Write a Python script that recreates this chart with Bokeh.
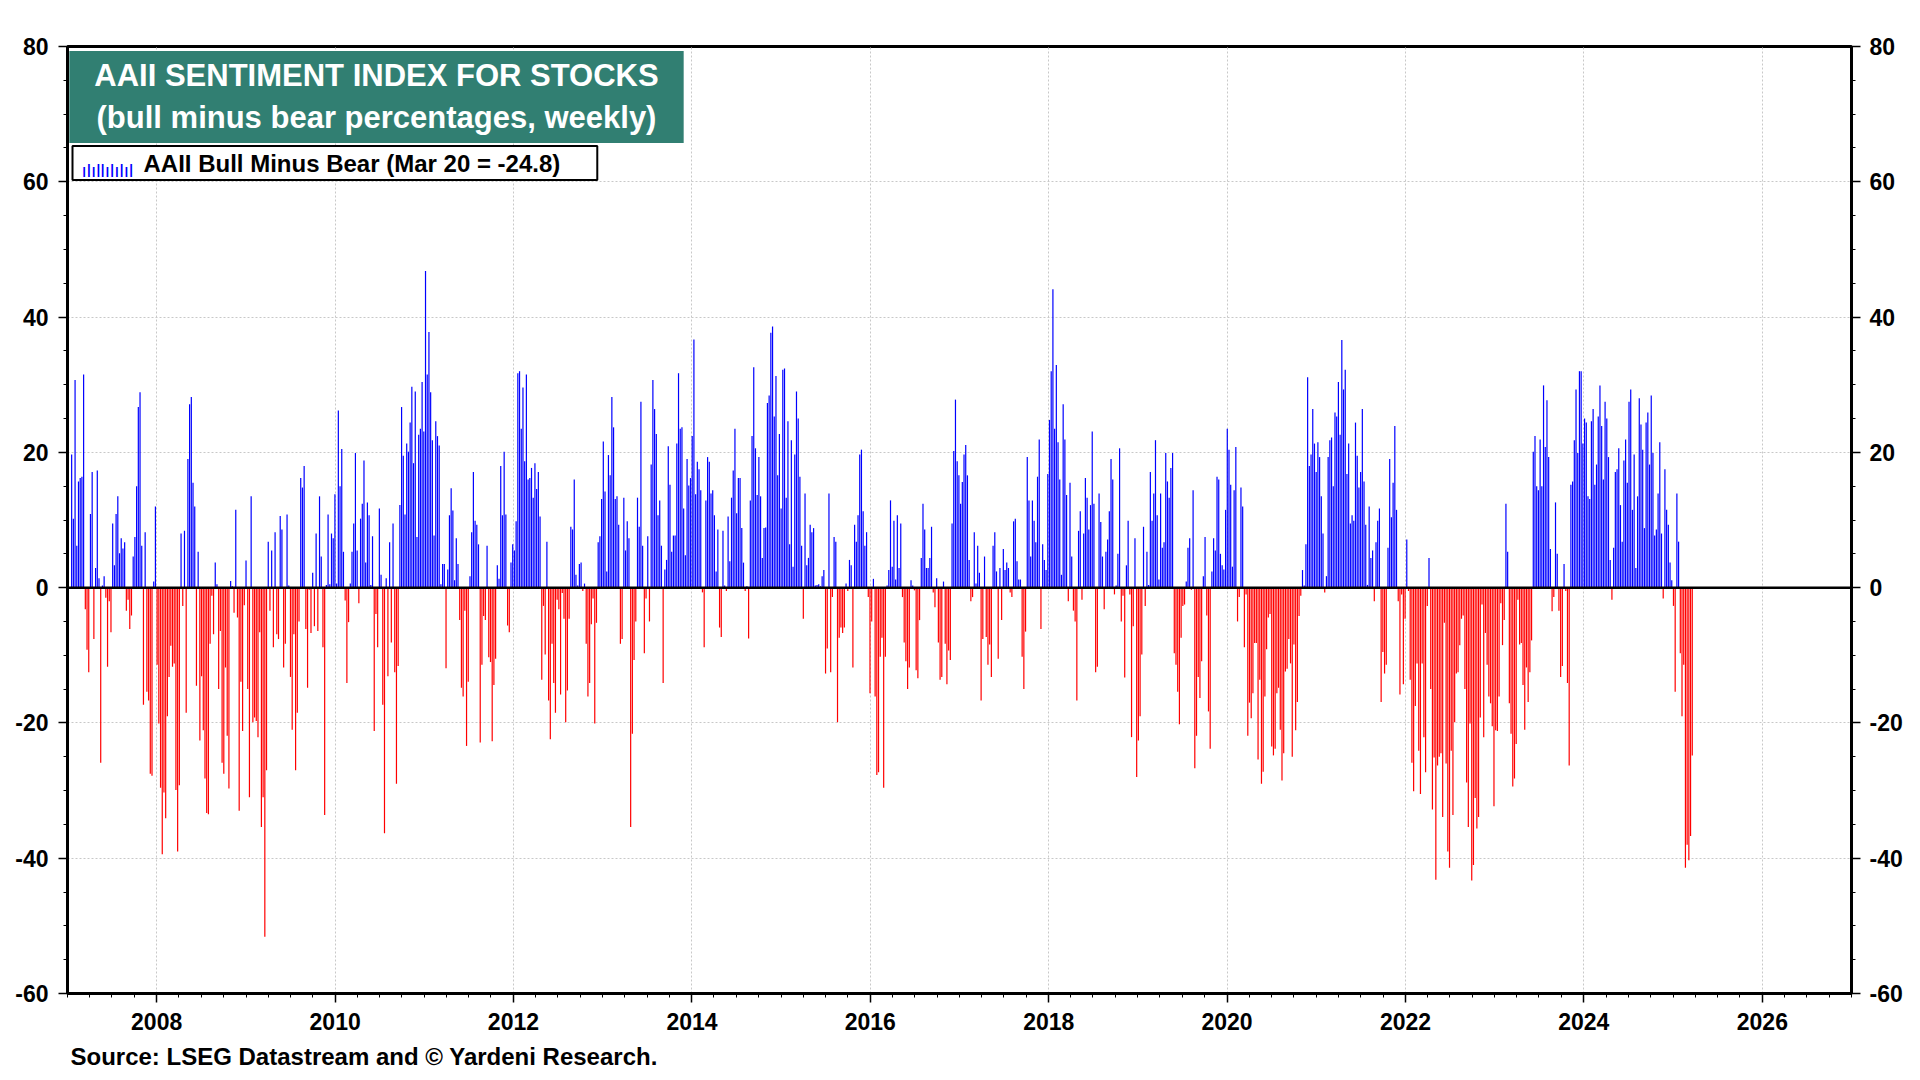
import pandas as pd
from bokeh.plotting import figure
from bokeh.models import (ColumnDataSource, Range1d, FixedTicker, DatetimeTickFormatter,
                          LinearAxis, Span, Label, Title)
from bokeh.embed import file_html
from bokeh.resources import INLINE

# weekly AAII bull minus bear readings, last reading Mar 20, 2025
last_week = "2025-03-20"

wk_2007_2009 = [19.7, 10.2, 30.7, 6.2, 15.7, 16.2, 16.4, 31.5, -3.2, -9.2,
                -12.5, 10.9, 17.1, -7.6, 2.9, 17.3, 1.4, -25.9, 0.3, 1.7,
                -1.5, -11.7, -2.0, -6.6, 9.5, 3.3, 10.9, 13.5, 5.1, 7.3,
                5.8, 6.7, -3.4, -1.8, -6.1, -4.1, 4.6, 7.5, 15.0, 26.7,
                28.9, 6.2, -17.3, 8.2, -15.4, -16.7, -27.5, -27.8, 0.9, 12.0,
                -11.4, -20.1, -29.6, -39.4, -30.3, -34.1, -19.0, -13.2, -8.6, -11.7,
                -11.2, -29.9, -39.0, -29.2, 8.0, -2.7, 8.4, -18.5, 19.0, 27.1,
                28.2, 15.5, 12.0, -14.5, 5.3, -22.6, -13.1, -21.1, -28.2, -33.3,
                -33.5, -8.3, -1.2, -6.9, 3.7, 0.5, -15.0, -6.4, -25.9, -27.5,
                -11.8, -21.9, -29.7, 1.0, 0.2, -3.7, 11.5, -4.4, -33.0, -13.9,
                -21.2, -2.6, 4.0, -15.0, -31.0, 13.5, -19.9, -19.2, -19.7, -22.1,
                -6.6, -35.4, -31.0, -51.6, -27.0, 6.8, -3.4, 5.5, -8.8, 8.2,
                -6.9, -7.6]

wk_2009_2011 = [10.6, 8.6, -11.8, -8.3, 10.8, 0.3, -13.2, -21.0, -6.9, -27.0,
                -18.5, -5.0, 16.2, 14.8, 18.0, -6.1, -14.8, -0.3, -6.7, 2.2,
                -5.7, 8.0, -6.4, 13.5, 4.6, -8.8, -33.6, 0.4, 10.8, 0.5,
                8.0, 7.3, 13.8, 0.6, 26.2, 15.0, 20.5, 5.3, -1.9, -14.1,
                -5.1, 0.6, 5.3, 9.5, 19.9, 5.5, -2.3, 10.2, 12.4, 18.8,
                3.7, 12.6, 10.7, 0.4, 7.6, -21.2, -3.9, -8.8, 11.7, 1.9,
                -17.3, -36.3, 1.4, -13.1, 6.7, -8.1, 9.5, -12.5, -29.0, -11.6,
                12.2, 26.7, 19.5, 10.8, 21.3, 20.1, 24.4, 29.7, 18.4, 29.0,
                7.5, 22.6, 23.5, 30.4, 23.1, 46.8, 31.5, 37.8, 28.9, 21.8,
                7.7, 24.6, 22.4, 21.0, 0.5, 3.5, 3.5, -11.9, 2.7, 10.7,
                14.7, 11.4, 1.1, 7.3, 3.5, -4.8, -14.8, -16.1, -3.4, -23.4,
                -13.9, 1.7, 8.2, 17.1, 9.9, 9.3, 6.4, -22.9]

wk_2011_2013 = [-11.4, -4.2, -4.8, 6.2, -10.3, -11.0, -22.7, -14.4, -10.5, 3.3,
                1.3, 18.0, 10.7, 20.1, 10.8, -5.6, -6.6, 3.7, 6.4, 5.5,
                9.8, 31.7, 32.0, 23.5, 29.6, 18.7, 31.5, 16.0, 16.2, 17.7,
                13.3, 18.4, 14.6, 17.1, 10.5, -13.6, -2.7, -9.9, 6.8, -16.7,
                -22.4, -8.3, -14.1, -18.5, -1.8, -3.2, -15.8, -0.8, -4.6, -19.9,
                -15.2, -4.6, 9.0, 8.6, 16.0, 1.9, 0.3, 3.5, 3.7, -0.5,
                0.6, -8.3, -16.1, -14.1, -5.4, -1.6, -20.1, -5.2, 6.7, 7.6,
                13.1, 21.6, 14.2, 2.4, 19.6, 16.6, 28.2, 23.7, 13.1, 13.5,
                9.3, -8.3, -7.6, 13.3, 5.5, 9.8, 7.3, -35.4, -21.6, -10.7,
                -5.0, 13.3, 9.0, 27.5, 6.2, -9.7, -1.6, 7.6, -5.0, 18.2,
                30.7, 26.4, 22.7, 10.7, 12.9, 6.2, -14.1, 2.7, 4.1, 20.9,
                15.2, 5.3, 7.7, 7.7, 21.3, 31.7, 23.5, 23.7, 11.7, 4.8]

wk_2013_2016 = [19.0, 15.1, 16.2, 22.4, 36.7, 13.8, 18.6, 17.5, 14.4, -0.7,
                -8.8, 12.9, 19.3, 18.6, 13.9, 14.4, 10.7, 2.4, 8.6, -5.9,
                -7.3, 8.4, 0.3, -0.5, 10.5, 3.9, 13.3, 17.3, 23.5, 11.0,
                16.2, 16.2, 8.8, 3.7, -0.5, 0.2, -7.5, 12.9, 22.4, 32.6,
                20.6, 13.7, 19.3, 13.5, 4.4, 8.8, 8.9, 27.3, 28.4, 37.7,
                38.6, 25.3, 31.3, 16.6, 22.7, 11.7, 32.2, 32.4, 13.3, 24.6,
                6.4, 21.8, 3.1, 19.7, 29.0, 25.0, 16.4, 6.2, -4.6, 13.9,
                3.3, 4.4, 9.3, 8.2, 8.8, 0.3, 0.4, 0.5, 0.2, 1.7, 2.6,
                -12.7, -9.0, 13.9, -12.5, -1.4, 7.5, 6.8, -19.9, -7.4, -5.9,
                -6.7, -5.9, 0.6, -0.5, 4.1, 3.3, -11.8, 9.3, 6.8, 10.7,
                19.7, 20.4, 11.3, 6.2, 8.2, -1.4, -15.6, -5.0, 1.3, -16.1,
                -27.7, -27.3, -10.2, -7.4, -29.6, -10.2, 0.3, 2.6, 12.9]

wk_2016_2018 = [3.1, 9.9, 1.2, 10.7, 2.9, 9.5, -1.4, -8.1, -10.9, -15.0,
                -11.8, 1.1, 0.3, -0.4, -12.2, -13.4, -4.8, 4.4, 12.4, 8.6, 2.9,
                2.9, 4.4, 9.0, -0.7, -2.9, 1.4, -8.1, -13.6, -13.2, 0.9,
                -8.3, -14.3, -9.3, -10.7, 9.5, 20.2, 27.8, 18.7, 16.6, 12.4,
                15.6, 19.7, 21.1, 16.6, 4.1, -2.0, -1.4, 8.2, 0.6, 6.2,
                2.2, -16.7, -7.6, 4.6, -7.3, -11.4, -8.4, -13.2, 6.2, 8.2,
                2.4, -10.5, 2.9, -4.8, 5.7, 2.6, 3.7, 2.9, -0.7, -1.4,
                9.8, 10.2, 3.9, 1.2, 1.2, -10.2, -15.0, -6.5, 19.3, 12.9,
                4.6, 12.9, 9.9, 6.7, 16.4, 21.9, -6.1, 6.4, 4.1, 2.6,
                16.8, 24.8, 32.0, 44.1, 23.5, 32.9, 21.5, 16.0, 1.9, 27.1,
                21.9, 13.7, -2.0, 15.5, 4.6, -3.4, -5.0, -16.7, 8.4, 11.3,
                -1.8, 8.0, 16.2, 13.3, 8.6, 12.2, 23.1, 12.4]

wk_2018_2020 = [-12.5, -11.7, 13.9, 9.7, 4.6, -3.2, 5.3, 7.1, 11.3, 19.0,
                16.0, -1.0, 0.3, 5.0, 20.6, -5.0, -1.2, -13.3, 3.3, 9.9,
                -1.0, -22.1, -5.7, 7.3, -28.0, -22.6, -19.0, -9.9, 9.0, -2.7,
                5.3, 0.4, 17.1, 9.9, 13.9, 21.8, 10.7, 1.2, 13.9, 5.9,
                6.7, 19.9, 15.7, 13.3, 17.7, 19.9, -9.7, -11.4, -15.4, -20.2,
                -7.4, -2.7, -2.5, 0.9, 5.9, 7.3, -0.3, 14.4, -26.7, -21.9,
                -13.2, -16.3, -10.9, 1.7, 7.5, -4.1, -18.3, -23.8, 2.4, 7.3,
                5.5, 16.4, 16.0, 5.0, 3.3, 2.7, 11.5, 23.5, 20.4, 15.2,
                3.1, 14.4, 20.8, -5.0, -1.4, 14.8, 12.0, -8.8, -1.0, -21.9,
                -17.0, -19.3, -15.6, -8.2, -8.2, -25.4, -13.6, -29.0, -27.2, -16.1,
                -9.1, -4.4, -3.9, -23.5, -24.8, -23.8, -15.6, -14.8, -21.0, -28.5,
                -24.5, -12.4, -12.0, -7.6, -11.2, -25.0, -8.4, -21.1, -16.9, -4.2]

wk_2020_2023 = [-1.2, 2.6, 0.3, 6.4, 31.1, 18.0, 19.7, 26.4, 21.3, 17.1,
                21.5, 19.3, 13.5, 8.0, -0.7, 1.7, 19.3, 21.8, 22.2, 15.0,
                25.9, 25.3, 30.4, 22.6, 36.6, 29.3, 32.2, 16.8, 21.3, 9.5,
                10.7, 9.9, 24.4, 19.5, 14.8, 17.1, 26.4, 15.7, 9.3, 0.4,
                12.0, 4.4, 5.5, -2.0, 6.7, 9.9, 11.7, -16.9, -9.5, -12.7,
                -11.4, 5.9, 19.0, 10.4, 15.5, 23.9, 11.5, -2.0, -15.8, -1.0,
                -14.3, -4.6, 7.1, -0.5, -13.6, -25.9, -30.1, -17.5, -11.2, -24.1,
                -30.5, -11.2, -22.1, -27.3, -2.7, 4.4, -15.0, -32.8, -25.1, -43.2,
                -26.3, -25.0, -24.5, -33.9, -5.2, -26.0, -39.0, -41.4, -24.1, -33.6,
                -19.9, -12.7, -12.5, -8.5, -4.6, -4.1, -15.0, -28.8, -35.4, -20.1,
                -43.3, -41.0, -31.1, -35.6, -33.9, -19.2, -2.5, -22.1, -6.7, -11.4,
                -16.1, -17.1, -20.5, -32.3, -21.1, -21.2, -16.1, -2.3, -8.5]

wk_2023_2025 = [-4.8, 12.4, 5.3, -17.1, -21.6, -29.4, -28.2, -23.1, -1.8, -8.4,
                -8.2, -14.4, -21.0, -11.8, -16.9, -12.5, -7.8, 20.1, 22.4, 15.0,
                14.4, 21.9, 15.0, 29.9, 20.8, 27.7, 19.3, 5.7, -3.5, -1.4,
                12.6, 5.0, -3.4, -13.2, -11.6, 3.5, -0.5, -14.1, -26.3, 15.2,
                15.7, 21.8, 29.3, 19.9, 32.0, 32.0, 21.3, 25.0, 24.4, 13.5,
                13.1, 24.6, 26.4, 15.2, 18.2, 25.3, 29.9, 23.9, 16.0, 27.5,
                25.0, 19.3, 4.1, -1.8, 5.9, 17.1, 17.5, 20.6, 12.2, 6.8,
                18.8, 21.9, 15.5, 27.5, 29.3, 11.5, 19.7, 2.9, 13.5, 28.0,
                24.1, 20.4, 8.8, 24.4, 25.9, 18.2, 28.4, 19.9, 7.7, 8.6,
                13.9, 21.5, 8.0, -1.6, 17.5, 11.5, 9.3, 3.7, 1.1, -2.7,
                -15.4, 13.9, 6.8, -9.7, -19.0, -11.4, -41.4, -38.0, -40.3, -36.7,
                -24.8]

bull_minus_bear = (wk_2007_2009 + wk_2009_2011 + wk_2011_2013 + wk_2013_2016
                   + wk_2016_2018 + wk_2018_2020 + wk_2020_2023 + wk_2023_2025)

label_years = list(range(2008, 2027, 2))
y_ticks = list(range(-60, 81, 20))
y_minor = list(range(-60, 81, 5))

weeks = pd.date_range(end=last_week, periods=len(bull_minus_bear), freq="7D")
colors = ["#0000ff" if v >= 0 else "#ff0000" for v in bull_minus_bear]
source = ColumnDataSource(dict(week=weeks, val=bull_minus_bear,
                               base=[0] * len(bull_minus_bear), color=colors))


def ms(ts):
    return pd.Timestamp(ts).timestamp() * 1000


FONT = "Liberation Sans"
W, H = 1920, 1080
TOP, BOTTOM = 46, 87

p = figure(width=W, height=H, x_axis_type="datetime", output_backend="svg",
           toolbar_location=None,
           x_range=Range1d(ms("2007-01-01"), ms("2027-01-01")), y_range=Range1d(-60, 80),
           min_border_left=67, min_border_right=69, min_border_top=TOP, min_border_bottom=BOTTOM)
p.outline_line_color = "black"
p.outline_line_width = 3
p.background_fill_color = "white"

p.segment(x0="week", y0="base", x1="week", y1="val", line_color="color",
          line_width=1.2, source=source)

p.add_layout(Span(location=0, dimension="width", line_color="black", line_width=2.5))

# axes
x_major = [ms(f"{y}-01-01") for y in label_years]
x_minor = [ms(t) for t in pd.date_range("2007-01-01", "2027-01-01", freq="QS")]
p.xaxis.ticker = FixedTicker(ticks=x_major, minor_ticks=x_minor)
p.xaxis.formatter = DatetimeTickFormatter(years="%Y", months="%Y", days="%Y", hours="%Y")
p.yaxis.ticker = FixedTicker(ticks=y_ticks, minor_ticks=y_minor)
p.add_layout(LinearAxis(ticker=FixedTicker(ticks=y_ticks, minor_ticks=y_minor)), "right")

for ax in p.xaxis + p.yaxis:
    ax.axis_line_color = "black"
    ax.axis_line_width = 3
    ax.major_tick_line_color = "black"
    ax.major_tick_line_width = 1.5
    ax.minor_tick_line_color = "black"
    ax.minor_tick_line_width = 1
    ax.major_tick_in = 0
    ax.major_tick_out = 9
    ax.minor_tick_in = 0
    ax.minor_tick_out = 4
    ax.major_label_text_font = FONT
    ax.major_label_text_font_style = "bold"
    ax.major_label_text_font_size = "23px"
    ax.major_label_text_color = "black"
    ax.major_label_standoff = 10
for ax in p.yaxis:
    ax.major_label_overrides = {v: str(v) for v in y_ticks}
p.yaxis[1].major_label_standoff = 9

p.xgrid.ticker = FixedTicker(ticks=x_major)
p.ygrid.ticker = FixedTicker(ticks=y_ticks)
for g in (p.xgrid, p.ygrid):
    g.grid_line_color = "#c8c8c8"
    g.grid_line_dash = "2 2"
    g.grid_line_width = 1

# header box (screen units measured from the frame's bottom-left)
frame_h = H - TOP - BOTTOM
head = Label(x=309, y=frame_h - 4.5, x_units="screen", y_units="screen",
             text="AAII SENTIMENT INDEX FOR STOCKS\n(bull minus bear percentages, weekly)",
             text_align="center", text_baseline="top", text_color="white",
             text_font=FONT, text_font_style="bold", text_font_size="31px",
             text_line_height=1.2, background_fill_color="#317f72",
             padding=dict(left=25, right=25, top=7, bottom=8))
p.add_layout(head)

# legend box with a small bar-like icon
key = Label(x=5, y=frame_h - 99.5, x_units="screen", y_units="screen",
            text="AAII Bull Minus Bear (Mar 20 = -24.8)",
            text_align="left", text_baseline="top", text_color="black",
            text_font=FONT, text_font_style="bold", text_font_size="24px",
            background_fill_color="white", border_line_color="black", border_line_width=2,
            padding=dict(left=71, right=37, top=4, bottom=3))
p.add_layout(key)
key_icon = Label(x=14, y=frame_h - 124, x_units="screen", y_units="screen",
                 text="\u0131l\u0131ll\u0131l\u0131l\u0131l", text_align="left",
                 text_baseline="alphabetic", text_color="#0000ff",
                 text_font=FONT, text_font_size="19px")
p.add_layout(key_icon)

# source note below the axis
src_note = Title(text="Source: LSEG Datastream and \u00a9 Yardeni Research.", align="left",
                 offset=3, standoff=17, text_font=FONT, text_font_style="bold",
                 text_font_size="24px", text_color="black")
p.add_layout(src_note, "below")

open("out.html", "w").write(file_html(p, INLINE))
